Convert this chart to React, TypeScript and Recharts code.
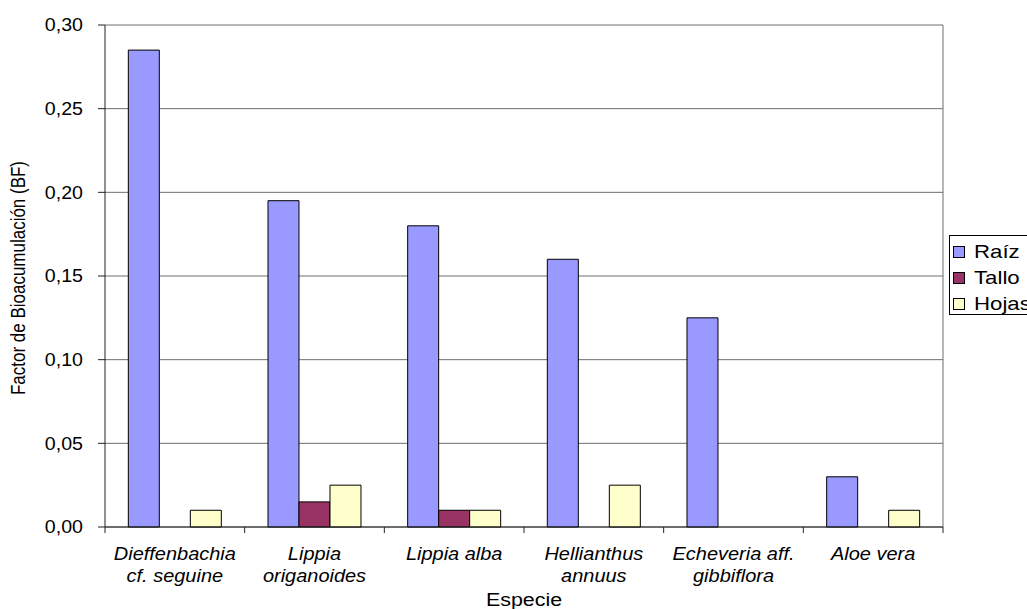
import { Bar, BarChart, CartesianGrid, Label, Legend, XAxis, YAxis } from "recharts";

const species = [
  "Dieffenbachia\ncf. seguine",
  "Lippia\noriganoides",
  "Lippia alba",
  "Hellianthus\nannuus",
  "Echeveria aff.\ngibbiflora",
  "Aloe vera",
];
const raiz = [0.285, 0.195, 0.18, 0.16, 0.125, 0.03];
const tallo = [0, 0.015, 0.01, 0, 0, 0];
const hojas = [0.01, 0.025, 0.01, 0.025, 0, 0.01];
const yTicks = [0, 0.05, 0.1, 0.15, 0.2, 0.25, 0.3];

const series = [
  { key: "raiz", name: "Raíz", color: "#9999FF" },
  { key: "tallo", name: "Tallo", color: "#993366" },
  { key: "hojas", name: "Hojas", color: "#FFFFCC" },
];

const data = species.map((name, i) => ({
  name,
  raiz: raiz[i],
  tallo: tallo[i],
  hojas: hojas[i],
}));

const FONT = "'Liberation Sans', Arial, sans-serif";
const GRID = "#6e6e6e";
const AXIS = "#222";

const fmt = (v: number) => v.toFixed(2).replace(".", ",");

function ValueTick(props: any) {
  const { x, y, payload } = props;
  return (
    <text
      transform={`translate(${x},${y}) scale(1.09,1)`}
      textAnchor="end"
      dy="0.355em"
      fontSize={18}
      fontFamily={FONT}
      fill="#000"
    >
      {fmt(payload.value)}
    </text>
  );
}

// category label plus the boundary tick marks between categories
function SpeciesTick(props: any) {
  const { x, y, payload, index, visibleTicksCount } = props;
  const half = payload.offset ?? 0;
  const lines = String(payload.value).split("\n");
  return (
    <g>
      <line x1={x - half} x2={x - half} y1={y} y2={y + 6} stroke={AXIS} />
      {index === visibleTicksCount - 1 && (
        <line x1={x + half} x2={x + half} y1={y} y2={y + 6} stroke={AXIS} />
      )}
      {lines.map((line, i) => (
        <text
          key={i}
          transform={`translate(${x},${y + 33 + i * 22}) scale(1.11,1)`}
          textAnchor="middle"
          fontSize={18}
          fontStyle="italic"
          fontFamily={FONT}
          fill="#000"
        >
          {line}
        </text>
      ))}
    </g>
  );
}

function SeriesLegend() {
  return (
    <div
      style={{
        border: "1px solid #000",
        background: "#fff",
        width: 100,
        height: 80,
        boxSizing: "border-box",
        paddingTop: 3,
        fontFamily: FONT,
        fontSize: 19,
        color: "#000",
        whiteSpace: "nowrap",
      }}
    >
      {series.map((s) => (
        <div key={s.key} style={{ display: "flex", alignItems: "center", height: 26 }}>
          <span
            style={{
              display: "inline-block",
              flex: "none",
              width: 12,
              height: 12,
              marginLeft: 3,
              marginRight: 9,
              boxSizing: "border-box",
              border: "1px solid #000",
              background: s.color,
            }}
          />
          <span style={{ display: "inline-block", transform: "scaleX(1.17)", transformOrigin: "left center" }}>
            {s.name}
          </span>
        </div>
      ))}
    </div>
  );
}

export default function App() {
  return (
    <div style={{ position: "absolute", left: 0, top: 0, width: 1027, height: 609, overflow: "hidden", background: "#fff", fontFamily: FONT }}>
      <BarChart
        width={1027}
        height={609}
        data={data}
        margin={{ top: 25, right: 84, bottom: 0, left: 0 }}
        barCategoryGap="16.7%"
        barGap={0}
      >
        <CartesianGrid
          vertical
          horizontal
          stroke={GRID}
          verticalCoordinatesGenerator={({ offset }: any) => [offset.left + offset.width]}
        />
        <XAxis
          dataKey="name"
          height={82}
          tickSize={0}
          tickMargin={0}
          tickLine={false}
          axisLine={{ stroke: AXIS }}
          interval={0}
          tick={(p: any) => <SpeciesTick {...p} />}
        >
          <Label
            content={({ viewBox }: any) => (
              <text
                transform={`translate(${viewBox.x + viewBox.width / 2},${viewBox.y + 79}) scale(1.19,1)`}
                textAnchor="middle"
                fontSize={18}
                fontFamily={FONT}
                fill="#000"
              >
                Especie
              </text>
            )}
          />
        </XAxis>
        <YAxis
          width={105}
          domain={[0, 0.3]}
          ticks={yTicks}
          tickSize={7}
          tickMargin={15}
          tickLine={{ stroke: AXIS }}
          axisLine={{ stroke: AXIS }}
          tick={(p: any) => <ValueTick {...p} />}
        >
          <Label
            content={({ viewBox }: any) => (
              <text
                transform={`translate(${viewBox.x + 18},${viewBox.y + viewBox.height / 2 + 2}) rotate(-90) scale(1,1.15)`}
                textAnchor="middle"
                dominantBaseline="central"
                fontSize={17}
                fontFamily={FONT}
                fill="#000"
              >
                Factor de Bioacumulación (BF)
              </text>
            )}
          />
        </YAxis>
        <Legend
          layout="vertical"
          align="center"
          verticalAlign="middle"
          wrapperStyle={{ left: 949, top: 235, width: 100, height: 80 }}
          content={() => <SeriesLegend />}
        />
        {series.map((s) => (
          <Bar
            key={s.key}
            dataKey={s.key}
            name={s.name}
            fill={s.color}
            stroke="#000"
            strokeWidth={1}
            isAnimationActive={false}
          />
        ))}
      </BarChart>
    </div>
  );
}
